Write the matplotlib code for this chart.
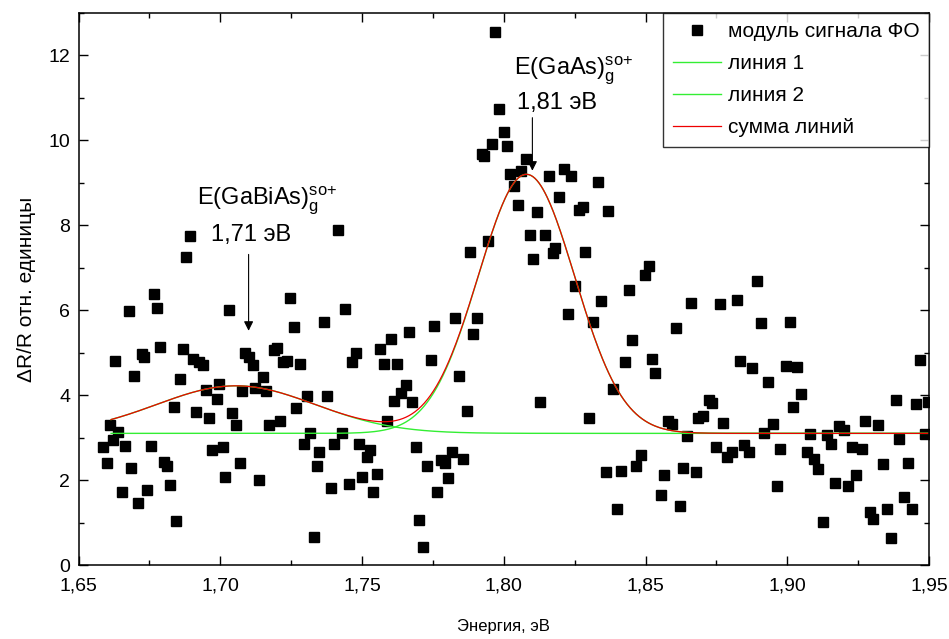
import numpy as np
import matplotlib
matplotlib.use("Agg")
import matplotlib.pyplot as plt
from matplotlib.ticker import MultipleLocator, FuncFormatter

plt.rcParams['font.family'] = ['Liberation Sans', 'DejaVu Sans']
plt.rcParams['mathtext.fontset'] = 'custom'
plt.rcParams['mathtext.rm'] = 'Liberation Sans'
plt.rcParams['mathtext.it'] = 'Liberation Sans'

# measured photoreflectance signal (energy, eV / dR/R)
energy = [1.6588, 1.6600, 1.6610, 1.6621, 1.6630, 1.6641, 1.6653, 1.6665, 1.6677, 1.6686,
          1.6697, 1.6710, 1.6724, 1.6732, 1.6741, 1.6757, 1.6765, 1.6777, 1.6789, 1.6803,
          1.6812, 1.6824, 1.6836, 1.6845, 1.6859, 1.6869, 1.6879, 1.6892, 1.6903, 1.6916,
          1.6924, 1.6939, 1.6948, 1.6962, 1.6971, 1.6987, 1.6995, 1.7009, 1.7018, 1.7030,
          1.7042, 1.7054, 1.7068, 1.7077, 1.7089, 1.7103, 1.7115, 1.7124, 1.7136, 1.7151,
          1.7163, 1.7171, 1.7189, 1.7199, 1.7209, 1.7221, 1.7236, 1.7246, 1.7260, 1.7268,
          1.7280, 1.7296, 1.7307, 1.7316, 1.7330, 1.7341, 1.7348, 1.7366, 1.7377, 1.7392,
          1.7401, 1.7415, 1.7428, 1.7440, 1.7454, 1.7466, 1.7478, 1.7489, 1.7501, 1.7517,
          1.7528, 1.7540, 1.7552, 1.7563, 1.7578, 1.7587, 1.7602, 1.7613, 1.7625, 1.7639,
          1.7654, 1.7666, 1.7678, 1.7690, 1.7701, 1.7716, 1.7729, 1.7743, 1.7754, 1.7766,
          1.7778, 1.7793, 1.7805, 1.7817, 1.7828, 1.7843, 1.7857, 1.7869, 1.7881, 1.7892,
          1.7905, 1.7923, 1.7931, 1.7943, 1.7958, 1.7970, 1.7984, 1.8002, 1.8011, 1.8021,
          1.8037, 1.8052, 1.8061, 1.8078, 1.8093, 1.8104, 1.8116, 1.8128, 1.8146, 1.8158,
          1.8173, 1.8182, 1.8196, 1.8211, 1.8225, 1.8237, 1.8253, 1.8267, 1.8278, 1.8288,
          1.8302, 1.8316, 1.8331, 1.8343, 1.8359, 1.8369, 1.8384, 1.8400, 1.8412, 1.8428,
          1.8441, 1.8453, 1.8467, 1.8485, 1.8497, 1.8512, 1.8522, 1.8535, 1.8553, 1.8565,
          1.8579, 1.8594, 1.8609, 1.8620, 1.8634, 1.8647, 1.8662, 1.8677, 1.8685, 1.8703,
          1.8723, 1.8733, 1.8750, 1.8762, 1.8773, 1.8789, 1.8805, 1.8821, 1.8832, 1.8846,
          1.8865, 1.8876, 1.8893, 1.8906, 1.8917, 1.8932, 1.8950, 1.8965, 1.8976, 1.8994,
          1.9009, 1.9021, 1.9035, 1.9050, 1.9068, 1.9080, 1.9094, 1.9109, 1.9127, 1.9139,
          1.9156, 1.9170, 1.9182, 1.9200, 1.9213, 1.9227, 1.9242, 1.9262, 1.9274, 1.9292,
          1.9303, 1.9319, 1.9336, 1.9351, 1.9365, 1.9382, 1.9394, 1.9413, 1.9427, 1.9439,
          1.9454, 1.9468, 1.9486, 1.9496]
signal = [2.78, 2.40, 3.30, 2.95, 4.81, 3.13, 1.72, 2.81, 5.99, 2.29,
          4.46, 1.46, 4.97, 4.90, 1.77, 2.81, 6.39, 6.05, 5.13, 2.42,
          2.32, 1.88, 3.73, 1.04, 4.39, 5.09, 7.26, 7.74, 4.86, 3.60,
          4.79, 4.72, 4.13, 3.46, 2.70, 3.92, 4.27, 2.79, 2.08, 6.01,
          3.58, 3.30, 2.40, 4.09, 4.99, 4.90, 4.72, 4.16, 2.00, 4.43,
          4.10, 3.30, 5.07, 5.11, 3.40, 4.79, 4.81, 6.29, 5.61, 3.69,
          4.74, 2.85, 3.99, 3.11, 0.67, 2.33, 2.67, 5.72, 3.99, 1.81,
          2.85, 7.90, 3.12, 6.04, 1.90, 4.77, 4.99, 2.85, 2.07, 2.54,
          2.71, 1.71, 2.14, 5.09, 4.73, 3.40, 5.32, 3.87, 4.73, 4.05,
          4.25, 5.49, 3.83, 2.79, 1.06, 0.43, 2.33, 4.82, 5.64, 1.73,
          2.48, 2.40, 2.04, 2.67, 5.82, 4.46, 2.50, 3.63, 7.37, 5.44,
          5.82, 9.67, 9.63, 7.62, 9.91, 12.55, 10.73, 10.20, 9.86, 9.20,
          8.92, 8.47, 9.28, 9.55, 7.76, 7.21, 8.31, 3.85, 7.78, 9.16,
          7.35, 7.47, 8.66, 9.32, 5.90, 9.17, 6.56, 8.37, 8.44, 7.37,
          3.47, 5.72, 9.02, 6.21, 2.19, 8.33, 4.15, 1.32, 2.22, 4.78,
          6.47, 5.31, 2.32, 2.58, 6.82, 7.05, 4.86, 4.52, 1.65, 2.11,
          3.40, 3.33, 5.58, 1.39, 2.28, 3.03, 6.17, 2.20, 3.46, 3.50,
          3.89, 3.82, 2.79, 6.15, 3.34, 2.54, 2.65, 6.23, 4.81, 2.83,
          2.65, 4.65, 6.70, 5.70, 3.12, 4.30, 3.32, 1.85, 2.73, 4.69,
          5.72, 3.73, 4.66, 4.03, 2.65, 3.08, 2.50, 2.26, 1.02, 3.07,
          2.85, 1.93, 3.28, 3.17, 1.85, 2.79, 2.12, 2.74, 3.38, 1.24,
          1.08, 3.30, 2.38, 1.31, 0.63, 3.88, 2.96, 1.60, 2.41, 1.31,
          3.80, 4.83, 3.08, 3.85]

# fitted peaks: baseline, centre (eV), amplitude, width (eV)
baseline = 3.10
peak_gaas = (1.808, 6.10, 0.0170)
peak_gabias = (1.7055, 1.12, 0.0280)


def gauss(x, c, a, w):
    return a * np.exp(-(x - c) ** 2 / (2 * w ** 2))


xf = np.linspace(1.6615, 1.95, 800)
line1 = baseline + gauss(xf, *peak_gaas)
line2 = baseline + gauss(xf, *peak_gabias)
total = baseline + gauss(xf, *peak_gaas) + gauss(xf, *peak_gabias)

fig = plt.figure(figsize=(9.49, 6.39), dpi=100)
ax = fig.add_axes([78.5 / 949, 1 - 565 / 639, 850.5 / 949, 552 / 639])

ax.plot(energy, signal, 's', color='black', ms=7.8, ls='none', label='модуль сигнала ФО')
ax.plot(xf, line1, color='#33ee33', lw=1.0, label='линия 1')
ax.plot(xf, line2, color='#33ee33', lw=1.0, label='линия 2')
ax.plot(xf, total, color='#ee0000', lw=0.9, label='сумма линий')

ax.set_xlim(1.65, 1.95)
ax.set_ylim(0, 13)
ax.xaxis.set_major_locator(MultipleLocator(0.05))
ax.xaxis.set_minor_locator(MultipleLocator(0.025))
ax.yaxis.set_major_locator(MultipleLocator(2))
ax.yaxis.set_minor_locator(MultipleLocator(1))
ax.xaxis.set_major_formatter(FuncFormatter(lambda v, p: f'{v:.2f}'.replace('.', ',')))
ax.tick_params(which='both', direction='in', top=True, right=True, width=1.0, labelsize=14)
ax.tick_params(which='major', length=6.5)
ax.tick_params(axis='x', which='major', pad=9)
ax.tick_params(axis='y', which='major', pad=6)
ax.tick_params(which='minor', length=3.5)
for s in ax.spines.values():
    s.set_linewidth(1.1)

ax.set_xlabel('Энергия, эВ', fontsize=12, labelpad=18)
ax.set_ylabel('ΔR/R отн. единицы', fontsize=15, labelpad=9)

# annotations
ax.text(1.6917, 8.49, r'E(GaBiAs)$_{\mathregular{g}}^{\mathregular{so{+}}}$', fontsize=17, ha='left', va='baseline')
ax.text(1.6966, 7.63, '1,71 эВ', fontsize=17, ha='left', va='baseline')
ax.annotate('', xy=(1.71, 5.45), xytext=(1.71, 7.38),
            arrowprops=dict(arrowstyle='-|>', color='black', lw=0.8, mutation_scale=14))
ax.text(1.8037, 11.56, r'E(GaAs)$_{\mathregular{g}}^{\mathregular{so{+}}}$', fontsize=17, ha='left', va='baseline')
ax.text(1.8048, 10.73, '1,81 эВ', fontsize=17, ha='left', va='baseline')
ax.annotate('', xy=(1.8101, 9.22), xytext=(1.8101, 10.6),
            arrowprops=dict(arrowstyle='-|>', color='black', lw=0.8, mutation_scale=14))

leg = ax.legend(loc='upper right', borderaxespad=0, fontsize=15, frameon=True, fancybox=False,
                handlelength=2.3, handletextpad=0.35, labelspacing=0.62, borderpad=0.45,
                markerscale=0.9)
leg.get_frame().set_edgecolor('black')
leg.get_frame().set_linewidth(1.0)

fig.savefig('out.png', dpi=100)
